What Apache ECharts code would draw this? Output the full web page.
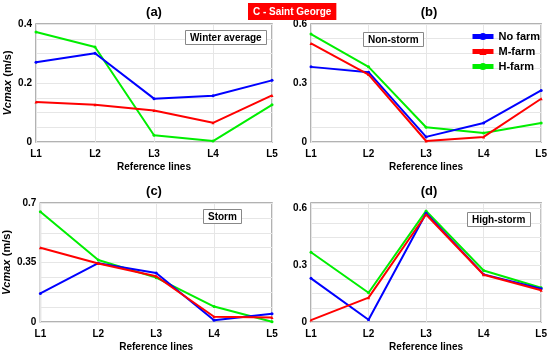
<!DOCTYPE html>
<html><head><meta charset="utf-8">
<script src="https://cdn.jsdelivr.net/npm/echarts@6/dist/echarts.min.js"></script>
<style>html,body{margin:0;padding:0;background:#fff}#c{width:550px;height:353px}</style>
</head><body><div id="c"></div>
<script>
const categories = ['L1','L2','L3','L4','L5'];
const seriesNames = ['No farm','M-farm','H-farm'];
// (a) Winter average
const aNoFarm = [0.270, 0.301, 0.147, 0.157, 0.209];
const aMFarm  = [0.136, 0.126, 0.107, 0.065, 0.158];
const aHFarm  = [0.373, 0.322, 0.023, 0.003, 0.126];
// (b) Non-storm
const bNoFarm = [0.382, 0.355, 0.026, 0.097, 0.262];
const bMFarm  = [0.501, 0.343, 0.005, 0.026, 0.220];
const bHFarm  = [0.549, 0.382, 0.075, 0.046, 0.097];
// (c) Storm
const cNoFarm = [0.168, 0.346, 0.288, 0.010, 0.048];
const cMFarm  = [0.437, 0.344, 0.269, 0.031, 0.027];
const cHFarm  = [0.648, 0.365, 0.261, 0.091, 0.002];
// (d) High-storm
const dNoFarm = [0.231, 0.012, 0.576, 0.252, 0.176];
const dMFarm  = [0.010, 0.129, 0.569, 0.250, 0.168];
const dHFarm  = [0.369, 0.155, 0.588, 0.273, 0.181];
// axis ticks
const aTicks = [0, 0.2, 0.4];
const bTicks = [0, 0.3, 0.6];
const cTicks = [0, 0.35, 0.7];
const dTicks = [0, 0.3, 0.6];
const panelLabels = ['(a)','(b)','(c)','(d)'];
const panelNotes = ['Winter average','Non-storm','Storm','High-storm'];
const headline = 'C - Saint George';

const colors = ['#0000ff','#ff0000','#00ee00'];
const symbols = ['circle','triangle','circle'];
const FONT = 'Liberation Sans';

const grids = [
  {left:36, top:24, right:278, bottom:211},
  {left:311, top:24, right:3, bottom:211},
  {left:36, top:203, right:278, bottom:30},
  {left:311, top:203, right:3, bottom:31}
];
const yCfg = [
  {min:0, max:0.4, interval:0.05, ticks:aTicks},
  {min:0, max:0.6, interval:0.075, ticks:bTicks},
  {min:0, max:0.7, interval:0.0875, ticks:cTicks},
  {min:0, max:0.63, interval:0.075, ticks:dTicks}
];
const data = [
  [aNoFarm,aMFarm,aHFarm],
  [bNoFarm,bMFarm,bHFarm],
  [cNoFarm,cMFarm,cHFarm],
  [dNoFarm,dMFarm,dHFarm]
];

const xAxis = grids.map((g,i)=>({
  type:'category', gridIndex:i, data:categories, boundaryGap:false,
  axisLine:{show:false}, axisTick:{show:false},
  splitLine:{show:true, lineStyle:{color:'#e6e6e6', width:1}},
  axisLabel:{color:'#000', fontFamily:FONT, fontWeight:'bold', fontSize:10, margin:7,
    alignMinLabel:'center', alignMaxLabel:'center'},
  name:'Reference lines', nameLocation:'middle', nameGap:20,
  nameTextStyle:{color:'#000', fontFamily:FONT, fontWeight:'bold', fontSize:10}
}));
const yAxis = yCfg.map((c,i)=>({
  type:'value', gridIndex:i, min:c.min, max:c.max, interval:c.interval,
  axisLine:{show:false}, axisTick:{show:false},
  splitLine:{show:true, lineStyle:{color:'#e6e6e6', width:1}},
  axisLabel:{color:'#000', fontFamily:FONT, fontWeight:'bold', fontSize:10, margin:4,
    formatter:v=>{ const t=c.ticks.find(k=>Math.abs(k-v)<1e-6); return t===undefined?'':String(t); }},
  name:(i%2===0)?'{i|Vcmax} {n|(m/s)}':'', nameLocation:'middle', nameGap:21, nameRotate:90,
  nameTextStyle:{color:'#000', rich:{
    i:{fontFamily:FONT, fontWeight:'bold', fontStyle:'italic', fontSize:11, color:'#000'},
    n:{fontFamily:FONT, fontWeight:'bold', fontSize:11, color:'#000'}}}
}));
const series = [];
data.forEach((grp,gi)=>{
  grp.forEach((vals,si)=>{
    series.push({type:'line', name:seriesNames[si], xAxisIndex:gi, yAxisIndex:gi,
      data:vals, symbol:symbols[si], symbolSize:3, showSymbol:true,
      lineStyle:{color:colors[si], width:2}, itemStyle:{color:colors[si]},
      z: si===1?4:(si===0?3:2), animation:false});
  });
});
const titleCenters = [[154,6],[429,6],[154,185],[429,185]];
const titles = panelLabels.map((t,i)=>({text:t, left:titleCenters[i][0], top:titleCenters[i][1],
  textAlign:'center', padding:0,
  textStyle:{fontFamily:FONT, fontWeight:'bold', fontSize:13, color:'#000'}}));
const notePos = [[185,30],[363,32],[203,209],[467,212]];
panelNotes.forEach((t,i)=>titles.push({text:t, left:notePos[i][0], top:notePos[i][1],
  padding:[3,5,2,5], borderColor:'#888', borderWidth:1, backgroundColor:'#fff',
  textStyle:{fontFamily:FONT, fontWeight:'bold', fontSize:10, color:'#000'}}));
titles.push({text:headline, left:248, top:3, padding:[4,5,3,5], backgroundColor:'#ff0000',
  textStyle:{fontFamily:FONT, fontWeight:'bold', fontSize:10, color:'#fff'}});

const chart = echarts.init(document.getElementById('c'), null, {renderer:'canvas'});
chart.setOption({
  animation:false,
  title:titles,
  grid:grids.map(g=>Object.assign({show:true, borderColor:'#999', borderWidth:1.5, backgroundColor:'transparent'}, g)),
  legend:{data:seriesNames, orient:'vertical', left:465, top:26, itemWidth:21, itemHeight:9, itemGap:4,
    lineStyle:{width:5},
    textStyle:{fontFamily:FONT, fontWeight:'bold', fontSize:11, color:'#000'}},
  xAxis, yAxis, series
});
</script></body></html>
